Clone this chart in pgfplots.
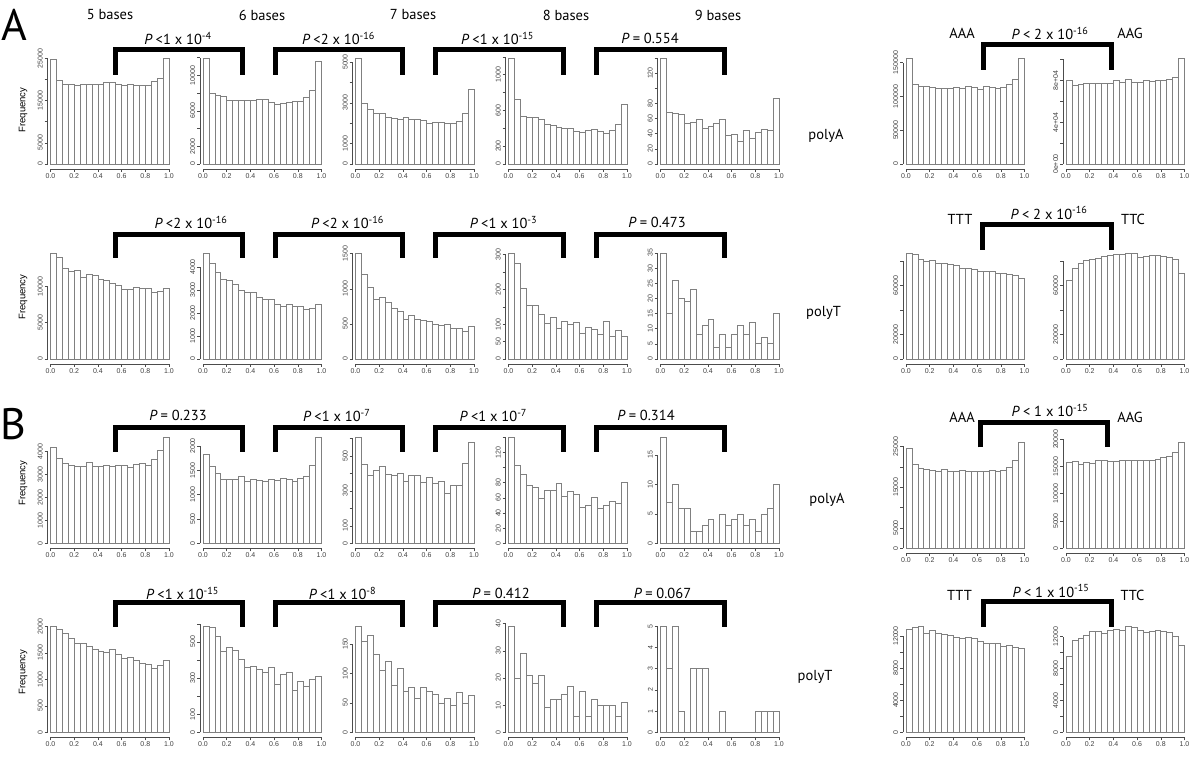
\documentclass[border=0pt]{standalone}
\usepackage{pgfplots}
\pgfplotsset{compat=1.18}
\usepackage{fontspec}
\setmainfont{PT Sans}
\newfontfamily\rfont{Liberation Sans}
\newcommand\tickfont{\rfont\fontsize{7}{8}\selectfont}
\newcommand\hfont{\fontsize{14.5}{16}\selectfont}
\newcommand\Pl[1]{\textit{P}\hspace{0.22em}#1}
\pgfplotsset{
  hist/.style={
    scale only axis, width=118.5pt, xmin=0, xmax=1, ymin=0, clip=false, anchor=south west,
    axis x line*=bottom, axis y line*=left,
    axis x line shift=5pt, axis y line shift=3pt,
    axis line style={black!70, line width=0.5pt},
    xtick={0,0.2,0.4,0.6,0.8,1}, xticklabels={0.0,0.2,0.4,0.6,0.8,1.0},
    tick align=outside, major tick length=3pt, tick style={black!70, line width=0.5pt},
    ticklabel style={font=\tickfont, text=black!75},
    y tick label style={rotate=90, anchor=south, inner sep=1.5pt},
    x tick label style={anchor=north, inner sep=1.5pt},
    scaled y ticks=false, minor tick num=0,
  },
  barstyle/.style={ybar interval=1, draw=black!50, fill=white, line width=0.7pt, mark=none},
}
\newcommand\hp[6]{%
  \begin{axis}[hist, at={(#1pt,#2pt)}, height=#3pt, ymax=#4, #5]
  \addplot[barstyle] table[row sep=\\, header=false, x expr=\coordindex*0.05, y index=0] {#6\\};
  \end{axis}}
\begin{document}
\begin{tikzpicture}[x=1pt,y=1pt]
\path[use as bounding box] (0,0) rectangle (1200,759);
% ---------------- Row 1 : A polyA ----------------
\hp{50.5}{595}{105.7}{25000}{ytick={0,5000,10000,15000,20000,25000},yticklabels={0,5000,{},15000,{},25000}}{24840\\19860\\18910\\18910\\18510\\18910\\18910\\18910\\18910\\19220\\19220\\18910\\18510\\18910\\18670\\18510\\18510\\19460\\20330\\25080\\25080}
\hp{203}{595}{106.4}{12000}{ytick={0,2000,4000,6000,8000,10000,12000},yticklabels={0,2000,{},6000,{},10000,{}}}{11960\\7920\\7700\\7580\\7210\\7210\\7210\\7210\\7210\\7320\\7320\\6980\\6680\\6790\\6980\\7090\\7090\\7550\\8340\\11620\\11620}
\hp{355.5}{595}{101.9}{5000}{ytick={0,1000,2000,3000,4000,5000},yticklabels={0,1000,{},3000,{},5000}}{5200\\2990\\2700\\2500\\2500\\2300\\2250\\2200\\2300\\2170\\2200\\2140\\1970\\2040\\2040\\1970\\2000\\2090\\2500\\3650\\3650}
\hp{508.5}{595}{107.2}{1200}{ytick={0,200,400,600,800,1000,1200},yticklabels={0,200,{},600,{},1000,{}}}{1187\\727\\532\\524\\524\\502\\446\\427\\408\\401\\401\\367\\356\\371\\390\\360\\345\\382\\446\\670\\670}
\hp{660.5}{595}{106}{140}{ytick={0,20,40,60,80,100,120,140},yticklabels={0,20,40,60,80,{},120,{}}}{140\\68\\67\\66\\54\\55\\59\\47\\50\\54\\59\\38\\39\\30\\44\\34\\42\\46\\44\\87\\87}
\hp{906}{595}{101.3}{150000}{ytick={0,50000,100000,150000},yticklabels={0,50000,100000,150000}}{157000\\118000\\114500\\114500\\113500\\112000\\112000\\112000\\113500\\112500\\114500\\113000\\111000\\114500\\113500\\111500\\113500\\118000\\125500\\156000\\156000}
\hp{1066}{595}{104.5}{100000}{ytick={0,20000,40000,60000,80000,100000},yticklabels={0e+00,{},4e+04,{},8e+04,{}}}{79700\\74900\\75800\\76800\\77400\\77400\\77400\\76800\\79700\\78400\\80600\\78400\\78400\\79700\\78900\\79700\\79700\\80600\\83200\\101400\\101400}
% ---------------- Row 2 : A polyT ----------------
\hp{50.5}{400}{72.6}{10000}{ytick={0,5000,10000},yticklabels={0,5000,10000}}{14600\\14050\\12530\\12070\\12170\\11290\\11610\\11470\\10920\\10780\\10460\\10180\\9540\\9540\\9910\\9770\\9680\\9170\\9350\\9770\\9770}
\hp{203}{400}{92.0}{4000}{ytick={0,1000,2000,3000,4000},yticklabels={0,1000,2000,3000,4000}}{4610\\4180\\3780\\3450\\3410\\3260\\2970\\2910\\2910\\2690\\2580\\2580\\2390\\2290\\2390\\2290\\2290\\2140\\2210\\2360\\2360}
\hp{355.5}{400}{105.3}{1500}{ytick={0,500,1000,1500},yticklabels={0,500,1000,1500}}{1510\\1210\\1024\\852\\881\\810\\724\\676\\567\\624\\567\\557\\543\\500\\486\\500\\443\\443\\395\\471\\471}
\hp{508.5}{400}{104.3}{300}{ytick={0,50,100,150,200,250,300},yticklabels={0,50,100,{},200,{},300}}{305\\274\\204\\155\\155\\129\\103\\120\\88\\108\\100\\105\\74\\91\\84\\70\\108\\66\\83\\66\\66}
\hp{660.5}{400}{106}{35}{ytick={0,5,10,15,20,25,30,35},yticklabels={0,5,10,15,20,25,30,35}}{35\\15\\26\\20\\19\\23\\8\\11\\13\\4\\8\\4\\8\\11\\8\\12\\5\\7\\5\\15\\15}
\hp{906}{400}{97.7}{80000}{ytick={0,20000,40000,60000,80000},yticklabels={0,20000,{},60000,{}}}{86800\\85500\\81900\\80000\\80500\\78100\\78100\\77800\\76400\\74500\\74500\\73700\\71800\\71800\\71800\\70400\\70400\\69000\\68200\\66300\\66300}
\hp{1066}{400}{97.7}{80000}{ytick={0,20000,40000,60000,80000},yticklabels={0,20000,{},60000,{}}}{64100\\74500\\78600\\80500\\81900\\82700\\84100\\84900\\86000\\85500\\86800\\86800\\83600\\84100\\85200\\84700\\84100\\83300\\81400\\69900\\69900}
% ---------------- Row 3 : B polyA ----------------
\hp{50.5}{215.7}{91.7}{4000}{ytick={0,1000,2000,3000,4000},yticklabels={0,1000,2000,3000,4000}}{4186\\3706\\3488\\3387\\3343\\3343\\3532\\3343\\3343\\3387\\3357\\3387\\3387\\3328\\3445\\3488\\3387\\3663\\4070\\4622\\4622}
\hp{203}{215.7}{97.3}{2000}{ytick={0,500,1000,1500,2000},yticklabels={0,500,1000,1500,2000}}{1820\\1575\\1438\\1315\\1315\\1315\\1384\\1267\\1322\\1301\\1267\\1315\\1288\\1329\\1315\\1267\\1336\\1384\\1603\\2178\\2178}
\hp{355.5}{215.7}{104.8}{600}{ytick={0,100,200,300,400,500,600},yticklabels={0,100,{},300,{},500,{}}}{607\\452\\391\\420\\439\\397\\391\\401\\357\\389\\389\\349\\378\\344\\355\\286\\332\\332\\458\\578\\578}
\hp{508.5}{215.7}{106}{140}{ytick={0,20,40,60,80,100,120,140},yticklabels={0,20,40,60,80,{},120,{}}}{140\\103\\91\\76\\74\\59\\70\\70\\79\\62\\68\\65\\48\\50\\61\\46\\50\\55\\53\\81\\81}
\hp{660.5}{215.7}{88.3}{15}{ytick={0,5,10,15},yticklabels={0,5,10,15}}{18\\7\\10\\6\\6\\2\\2\\3\\4\\0\\5\\3\\4\\5\\3\\4\\2\\5\\6\\10\\10}
\hp{906}{210.7}{101.9}{25000}{ytick={0,5000,10000,15000,20000,25000},yticklabels={0,5000,{},15000,{},25000}}{24500\\20500\\19500\\19300\\19000\\18900\\19300\\18800\\18800\\19000\\18800\\18800\\18800\\18800\\19100\\18800\\19000\\19900\\21600\\26000\\26000}
\hp{1066}{210.7}{109.1}{20000}{ytick={0,5000,10000,15000,20000},yticklabels={0,5000,10000,15000,20000}}{15740\\15930\\15430\\15740\\15560\\16050\\16170\\15990\\15990\\16170\\16170\\16170\\16170\\16170\\16170\\16300\\16670\\16850\\17590\\19440\\19440}
% ---------------- Row 4 : B polyT ----------------
\hp{50.5}{26.7}{106}{2000}{ytick={0,500,1000,1500,2000},yticklabels={0,500,1000,1500,2000}}{2000\\1940\\1860\\1780\\1670\\1670\\1620\\1560\\1530\\1515\\1570\\1480\\1390\\1410\\1360\\1310\\1280\\1210\\1270\\1365\\1365}
\hp{203}{26.7}{108.5}{600}{ytick={0,100,200,300,400,500,600},yticklabels={0,100,{},300,{},500,{}}}{586\\579\\531\\449\\467\\454\\404\\360\\362\\349\\329\\358\\265\\320\\331\\233\\283\\252\\294\\311\\311}
\hp{355.5}{26.7}{88.3}{150}{ytick={0,50,100,150},yticklabels={0,50,100,150}}{180\\155\\164\\132\\106\\121\\79\\108\\69\\76\\58\\77\\70\\64\\50\\58\\46\\68\\50\\62\\62}
\hp{508.5}{26.7}{108.7}{40}{ytick={0,10,20,30,40},yticklabels={0,10,20,30,40}}{39\\20\\29\\21\\18\\21\\9\\12\\12\\14\\17\\6\\15\\6\\12\\10\\10\\10\\6\\11\\11}
\hp{660.5}{26.7}{106}{5}{ytick={0,1,2,3,4,5},yticklabels={0,1,2,3,4,5}}{5\\3\\5\\1\\0\\3\\3\\3\\0\\0\\1\\0\\0\\0\\0\\0\\1\\1\\1\\1\\1}
\hp{906}{26.7}{96.3}{12000}{ytick={0,2000,4000,6000,8000,10000,12000},yticklabels={0,{},4000,{},8000,{},12000}}{12790\\13080\\13210\\12380\\12710\\12380\\12170\\12040\\11880\\11670\\11880\\11670\\11330\\11130\\11130\\11130\\10710\\10790\\10630\\10420\\10420}
\hp{1066}{26.7}{95.7}{12000}{ytick={0,2000,4000,6000,8000,10000,12000},yticklabels={0,{},4000,{},8000,{},12000}}{9580\\11540\\11750\\12170\\12670\\12670\\12380\\12790\\12960\\12790\\13290\\13210\\12790\\12500\\12670\\12790\\12670\\12500\\12040\\10920\\10920}
% ---------------- Labels ----------------
\begin{scope}[every node/.style={font=\hfont, inner sep=0pt}]
\node at (110,744) {5 bases};
\node at (262,744) {6 bases};
\node at (413,744) {7 bases};
\node at (566,744) {8 bases};
\node at (718,744) {9 bases};
\node[font=\fontsize{44}{46}\selectfont] at (14,734) {A};
\node[font=\fontsize{44}{46}\selectfont] at (13,335) {B};
% row 1
\node at (178,720.5) {\Pl{<1 x 10\textsuperscript{-4}}};
\node at (338.5,720.5) {\Pl{<2 x 10\textsuperscript{-16}}};
\node at (497.5,720.5) {\Pl{<1 x 10\textsuperscript{-15}}};
\node at (650,720.5) {\Pl{= 0.554}};
\node at (1050,725.5) {\Pl{< 2 x 10\textsuperscript{-16}}};
\node at (962,726) {AAA};
\node at (1130,726) {AAG};
\node at (826,623) {polyA};
% row 2
\node at (191,536.5) {\Pl{<2 x 10\textsuperscript{-16}}};
\node at (347.5,536.5) {\Pl{<2 x 10\textsuperscript{-16}}};
\node at (503.5,536.5) {\Pl{<1 x 10\textsuperscript{-3}}};
\node at (657,536.5) {\Pl{= 0.473}};
\node at (1049,546) {\Pl{< 2 x 10\textsuperscript{-16}}};
\node at (960,540) {TTT};
\node at (1133,540) {TTC};
\node at (823.5,446) {polyT};
% row 3
\node at (178,343.3) {\Pl{= 0.233}};
\node at (336.7,343.3) {\Pl{<1 x 10\textsuperscript{-7}}};
\node at (493.3,343.3) {\Pl{<1 x 10\textsuperscript{-7}}};
\node at (646,343.3) {\Pl{= 0.314}};
\node at (1050,348.3) {\Pl{< 1 x 10\textsuperscript{-15}}};
\node at (962,341.5) {AAA};
\node at (1130,341.5) {AAG};
\node at (827,259) {polyA};
% row 4
\node at (182.5,165.7) {\Pl{<1 x 10\textsuperscript{-15}}};
\node at (342.5,165.7) {\Pl{<1 x 10\textsuperscript{-8}}};
\node at (501,165.7) {\Pl{= 0.412}};
\node at (662.5,165.7) {\Pl{= 0.067}};
\node at (1051,168) {\Pl{< 1 x 10\textsuperscript{-15}}};
\node at (959.5,163.3) {TTT};
\node at (1132.5,163.3) {TTC};
\node at (815,82) {polyT};
\end{scope}
% Frequency labels
\begin{scope}[every node/.style={font=\rfont\fontsize{9.5}{11}\selectfont, rotate=90, inner sep=0pt}]
\node at (23,649) {Frequency};
\node at (23,462) {Frequency};
\node at (23,276) {Frequency};
\node at (23,87) {Frequency};
\end{scope}
% brackets
\begin{scope}[line width=5pt, miter limit=10]
\foreach \a/\b in {115/242.5, 275/402.5, 435.5/563.5, 596.5/724.5} {
  \draw (\a,684) -- (\a,709) -- (\b,709) -- (\b,684);
  \draw (\a,501) -- (\a,524.5) -- (\b,524.5) -- (\b,501);
  \draw (\a,307.3) -- (\a,331.5) -- (\b,331.5) -- (\b,307.3);
  \draw (\a,132.3) -- (\a,156.5) -- (\b,156.5) -- (\b,132.3);
}
\draw (983.5,689) -- (983.5,714.5) -- (1111.5,714.5) -- (1111.5,689);
\draw (982,509) -- (982,534) -- (1111,534) -- (1111,509);
\draw (980.5,311.7) -- (980.5,336.5) -- (1107.5,336.5) -- (1107.5,311.7);
\draw (983.5,132.3) -- (983.5,157.3) -- (1111.5,157.3) -- (1111.5,132.3);
\end{scope}
\end{tikzpicture}
\end{document}
